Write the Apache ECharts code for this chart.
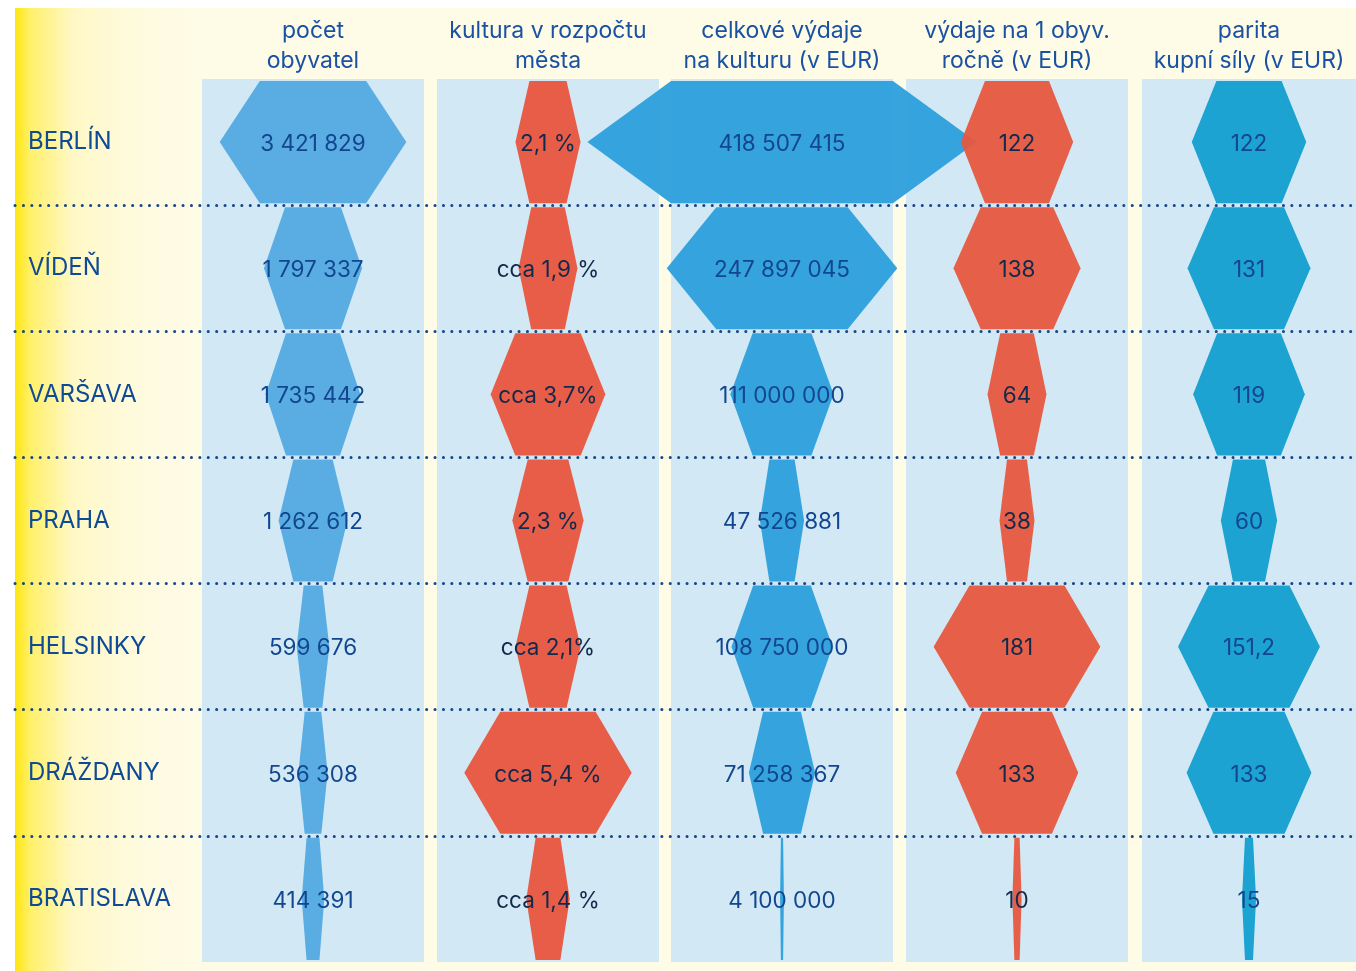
<!DOCTYPE html>
<html>
<head>
<meta charset="utf-8">
<title>Kultura ve městech</title>
<script src="https://cdn.jsdelivr.net/npm/echarts@6/dist/echarts.min.js"></script>
<style>
  html, body { margin: 0; background: #ffffff; }
  #chart { width: 1356px; height: 971px; }
</style>
</head>
<body>
<div id="chart"></div>
<script>
// cities (rows, top to bottom)
const cities = ['BERLÍN', 'VÍDEŇ', 'VARŠAVA', 'PRAHA', 'HELSINKY', 'DRÁŽDANY', 'BRATISLAVA']

// column headers
const headers = [
  'počet\nobyvatel',
  'kultura v rozpočtu\nměsta',
  'celkové výdaje\nna kulturu (v EUR)',
  'výdaje na 1 obyv.\nročně (v EUR)',
  'parita\nkupní síly (v EUR)'
]

// values per column
const population = [3421829, 1797337, 1735442, 1262612, 599676, 536308, 414391]
const cultureShare = [2.1, 1.9, 3.7, 2.3, 2.1, 5.4, 1.4]
const cultureSpend = [418507415, 247897045, 111000000, 47526881, 108750000, 71258367, 4100000]
const perCapita = [122, 138, 64, 38, 181, 133, 10]
const ppp = [122, 131, 119, 60, 151.2, 133, 15]

// printed labels
const populationLabels = ['3 421 829', '1 797 337', '1 735 442', '1 262 612', '599 676', '536 308', '414 391']
const shareLabels = ['2,1 %', 'cca 1,9 %', 'cca 3,7%', '2,3 %', 'cca 2,1%', 'cca 5,4 %', 'cca 1,4 %']
const spendLabels = ['418 507 415', '247 897 045', '111 000 000', '47 526 881', '108 750 000', '71 258 367', '4 100 000']
const perCapitaLabels = ['122', '138', '64', '38', '181', '133', '10']
const pppLabels = ['122', '131', '119', '60', '151,2', '133', '15']

const chart = echarts.init(document.getElementById('chart'))

const TOP = 79
const BOTTOM = 9
const NAVY = '#12468f'
const INK = '#13294b'
const FONT = 'Inter, "Noto Sans", sans-serif'

// column layout: panel left/width, axis half-range, colour, text colour
const columns = [
  { left: 202, width: 222, max: 4.07e6, color: '#52aae2', text: NAVY, values: population, labels: populationLabels },
  { left: 437, width: 222, max: 7.16, color: '#e8553e', text: INK, values: cultureShare, labels: shareLabels },
  { left: 671, width: 222, max: 2.387e8, color: '#2c9fdc', text: NAVY, values: cultureSpend, labels: spendLabels },
  { left: 906, width: 222, max: 241, color: '#e7583f', text: INK, values: perCapita, labels: perCapitaLabels },
  { left: 1142, width: 214, max: 228, color: '#139fd0', text: NAVY, values: ppp, labels: pppLabels }
]

// hexagon: top/bottom edge as a share of middle width
const EDGE = 0.57

function hexRenderer(col) {
  return function (params, api) {
    const v = api.value(0)
    const idx = api.value(1)
    const c = api.coord([0, idx])
    const r = api.coord([v, idx])
    const w = Math.max(r[0] - c[0], 0.8)
    const h = api.size([0, 1])[1] / 2 - 2
    const e = w * EDGE
    return {
      type: 'group',
      children: [
        {
          type: 'polygon',
          shape: {
            points: [
              [c[0] - e, c[1] - h], [c[0] + e, c[1] - h], [c[0] + w, c[1]],
              [c[0] + e, c[1] + h], [c[0] - e, c[1] + h], [c[0] - w, c[1]]
            ]
          },
          style: { fill: col.color, opacity: 0.95 }
        },
        {
          type: 'text',
          z2: 10,
          style: {
            text: col.labels[params.dataIndex],
            x: c[0], y: c[1] + 2,
            align: 'center', verticalAlign: 'middle',
            fill: col.text,
            font: '400 22.5px ' + FONT
          }
        }
      ]
    }
  }
}

const grids = [{ left: 15, right: 0, top: TOP, bottom: BOTTOM }]
const xAxes = [{ gridIndex: 0, type: 'value', show: false }]
const yAxes = [
  {
    gridIndex: 0, type: 'value', position: 'right', min: 0, max: 7, interval: 1, inverse: true,
    axisLine: { show: false }, axisTick: { show: false }, axisLabel: { show: false },
    splitLine: {
      show: true, showMinLine: false, showMaxLine: false,
      lineStyle: { color: '#17478a', width: 3, type: [0.1, 8.3], cap: 'round' }
    }
  },
  {
    gridIndex: 0, type: 'category', position: 'left', data: cities, inverse: true,
    axisLine: { show: false }, axisTick: { show: false }, splitLine: { show: false },
    axisLabel: {
      inside: true, margin: 13, color: '#0e4a95', align: 'left',
      fontSize: 24, fontFamily: FONT, padding: [3, 0, 0, 0]
    }
  }
]
const series = []

columns.forEach((col, i) => {
  const g = i + 1
  grids.push({
    left: col.left, width: col.width, top: TOP, bottom: BOTTOM,
    show: true, backgroundColor: '#d2e9f5', borderWidth: 0, z: 0
  })
  xAxes.push({
    gridIndex: g, type: 'value', min: -col.max, max: col.max, position: 'top',
    axisLine: { show: false }, axisTick: { show: false }, axisLabel: { show: false },
    splitLine: { show: false },
    name: headers[i], nameLocation: 'middle', nameGap: 3,
    nameTextStyle: {
      color: '#1a52a3', fontSize: 23, lineHeight: 30, fontFamily: FONT
    }
  })
  yAxes.push({
    gridIndex: g, type: 'category', data: cities, inverse: true, show: false
  })
  series.push({
    type: 'custom',
    name: headers[i].replace('\n', ' '),
    xAxisIndex: g,
    yAxisIndex: yAxes.length - 1,
    z: 3,
    clip: false,
    renderItem: hexRenderer(col),
    data: col.values.map((v, k) => [v, k])
  })
})

const option = {
  backgroundColor: '#ffffff',
  animation: false,
  graphic: [
    {
      type: 'rect', z: -10, silent: true,
      shape: { x: 15, y: 8, width: 1341, height: 963 },
      style: { fill: '#fefbe6' }
    },
    {
      type: 'rect', z: -9, silent: true,
      shape: { x: 15, y: 8, width: 190, height: 963 },
      style: {
        fill: new echarts.graphic.LinearGradient(0, 0, 1, 0, [
          { offset: 0, color: '#ffe60f' },
          { offset: 0.08, color: '#fff06a' },
          { offset: 0.3, color: '#fff8c4' },
          { offset: 1, color: 'rgba(254,251,230,0)' }
        ])
      }
    }
  ],
  grid: grids,
  xAxis: xAxes,
  yAxis: yAxes,
  series: series
}

chart.setOption(option)
window.addEventListener('resize', () => chart.resize())
</script>
</body>
</html>
